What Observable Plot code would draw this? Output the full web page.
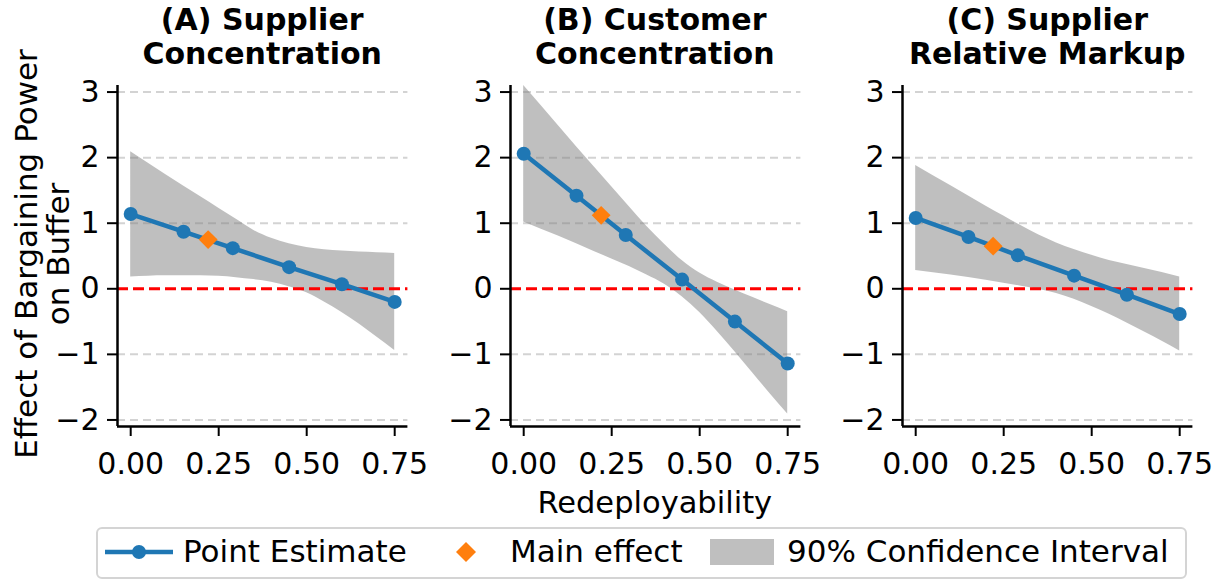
<!DOCTYPE html>
<html>
<head>
<meta charset="utf-8">
<script src="https://cdn.jsdelivr.net/npm/d3@7"></script>
<script src="https://cdn.jsdelivr.net/npm/@observablehq/plot@0.6"></script>
<style>
  body { margin: 0; background: #fff; }
  #fig { position: relative; width: 1225px; height: 580px; overflow: hidden;
         font-family: "DejaVu Sans", sans-serif; color: #000; background: #fff; }
  .panel { position: absolute; top: 0; }
  .title { position: absolute; top: 3px; text-align: center; font-weight: bold;
           font-size: 30px; line-height: 34px; white-space: nowrap; }
  .ylabel { position: absolute; left: 42px; top: 254px; transform: translate(-50%, -50%) rotate(-90deg);
            text-align: center; font-size: 31px; line-height: 32px; white-space: nowrap; }
  .xlabel { position: absolute; top: 485px; font-size: 30.5px; white-space: nowrap; transform: translateX(-50%); }
  .legend { position: absolute; left: 96px; top: 527px; width: 1091px; height: 52px;
            border: 2px solid #d4d4d4; border-radius: 6px; box-sizing: border-box; }
  .lg { position: absolute; top: 534px; font-size: 31px; line-height: 35px; white-space: nowrap; }
  .sw { position: absolute; }
</style>
</head>
<body>
<div id="fig"></div>
<script>
// Redeployability percentiles at which the marginal effect is evaluated
const redeploy = [0, 0.15, 0.29, 0.45, 0.60, 0.75];
// Sample mean of redeployability (main effect location)
const mainX = 0.22;

const panelTitles = [
  ["(A) Supplier", "Concentration"],
  ["(B) Customer", "Concentration"],
  ["(C) Supplier", "Relative Markup"]
];

// Point estimates of the marginal effect
const estA = [1.14, 0.87, 0.62, 0.33, 0.07, -0.20];
const estB = [2.06, 1.42, 0.82, 0.14, -0.50, -1.14];
const estC = [1.08, 0.79, 0.51, 0.20, -0.09, -0.385];

// Main effects
const mainA = 0.75;
const mainB = 1.12;
const mainC = 0.65;

// 90% confidence band
const bandX = [0, 0.1, 0.2, 0.25, 0.3, 0.35, 0.4, 0.45, 0.5, 0.55, 0.6, 0.65, 0.7, 0.75];
const upperA = [2.09, 1.74, 1.40, 1.23, 1.06, 0.89, 0.77, 0.685, 0.63, 0.595, 0.575, 0.56, 0.55, 0.54];
const lowerA = [0.18, 0.20, 0.20, 0.19, 0.17, 0.14, 0.10, 0.03, -0.06, -0.20, -0.36, -0.54, -0.74, -0.94];
const upperB = [3.10, 2.48, 1.86, 1.555, 1.25, 0.95, 0.68, 0.43, 0.24, 0.10, -0.02, -0.13, -0.24, -0.35];
const lowerB = [1.02, 0.80, 0.57, 0.455, 0.34, 0.21, 0.07, -0.12, -0.36, -0.65, -0.96, -1.28, -1.60, -1.91];
const upperC = [1.88, 1.57, 1.26, 1.11, 0.96, 0.82, 0.70, 0.60, 0.51, 0.43, 0.37, 0.31, 0.25, 0.18];
const lowerC = [0.28, 0.21, 0.13, 0.085, 0.04, -0.01, -0.07, -0.16, -0.27, -0.39, -0.52, -0.66, -0.80, -0.95];

// Axis ticks
const xTicks = [0, 0.25, 0.5, 0.75];
const yTicks = [-2, -1, 0, 1, 2, 3];

const blue = "#1f77b4";
const orange = "#ff7f0e";
const xDomain = [-0.0375, 0.7875];
const yDomain = [-2.1, 3.1];

const panelLeft = [0, 392.6, 785];
const mLeft = 117, plotW = 290.4, svgW = 420, svgH = 490, mTop = 85, mBottom = 64;

const fmtY = d => (d < 0 ? "\u2212" + Math.abs(d) : String(d));

function panel(est, main, upper, lower) {
  const pts = redeploy.map((x, i) => ({x, y: est[i]}));
  const band = bandX.map((x, i) => ({x, lo: lower[i], hi: upper[i]}));
  return Plot.plot({
    width: svgW,
    height: svgH,
    marginLeft: mLeft,
    marginRight: svgW - mLeft - plotW,
    marginTop: mTop,
    marginBottom: mBottom,
    style: {background: "transparent", fontFamily: "DejaVu Sans", fontSize: "30px", color: "#000", overflow: "visible"},
    x: {domain: xDomain},
    y: {domain: yDomain},
    marks: [
      Plot.ruleY(yTicks.filter(d => d !== 0), {stroke: "#d3d3d3", strokeWidth: 2, strokeDasharray: "8,5"}),
      Plot.areaY(band, {x: "x", y1: "lo", y2: "hi", fill: "gray", fillOpacity: 0.5, curve: "monotone-x"}),
      Plot.ruleY([0], {stroke: "red", strokeWidth: 3, strokeDasharray: "11,5"}),
      Plot.line(pts, {x: "x", y: "y", stroke: blue, strokeWidth: 4.5}),
      Plot.dot(pts, {x: "x", y: "y", r: 7, fill: blue}),
      Plot.dot([{x: mainX, y: main}], {x: "x", y: "y", r: 8.5, symbol: "diamond2", fill: orange}),
      Plot.axisX(xTicks, {tickSize: 10, tickPadding: 16, strokeWidth: 2, fontSize: 30,
                          tickFormat: d3.format(".2f"), label: null}),
      Plot.axisY(yTicks, {tickSize: 10, tickPadding: 8, strokeWidth: 2, fontSize: 30,
                          tickFormat: fmtY, label: null}),
      Plot.ruleX([xDomain[0]], {stroke: "#000", strokeWidth: 2.5}),
      Plot.ruleY([yDomain[0]], {stroke: "#000", strokeWidth: 2.5})
    ]
  });
}

const fig = document.getElementById("fig");
const series = [[estA, mainA, upperA, lowerA], [estB, mainB, upperB, lowerB], [estC, mainC, upperC, lowerC]];

series.forEach((s, i) => {
  const svg = panel(...s);
  svg.classList.add("panel");
  svg.style.left = panelLeft[i] + "px";
  fig.appendChild(svg);

  const t = document.createElement("div");
  t.className = "title";
  t.style.left = (panelLeft[i] + mLeft) + "px";
  t.style.width = plotW + "px";
  t.innerHTML = panelTitles[i].join("<br>");
  fig.appendChild(t);
});

// shared y label
const yl = document.createElement("div");
yl.className = "ylabel";
yl.innerHTML = "Effect of Bargaining Power<br>on Buffer";
fig.appendChild(yl);

// shared x label
const xl = document.createElement("div");
xl.className = "xlabel";
xl.style.left = (panelLeft[1] + mLeft + plotW / 2) + "px";
xl.textContent = "Redeployability";
fig.appendChild(xl);

// legend
const lgBox = document.createElement("div");
lgBox.className = "legend";
fig.appendChild(lgBox);

function swatch(left, top, w, h, inner) {
  const d = document.createElement("div");
  d.className = "sw";
  d.style.left = left + "px";
  d.style.top = top + "px";
  d.innerHTML = `<svg width="${w}" height="${h}" viewBox="0 0 ${w} ${h}">${inner}</svg>`;
  fig.appendChild(d);
}
function label(left, text) {
  const d = document.createElement("div");
  d.className = "lg";
  d.style.left = left + "px";
  d.textContent = text;
  fig.appendChild(d);
}
swatch(105, 540, 68, 24, `<line x1="0" y1="12" x2="68" y2="12" stroke="${blue}" stroke-width="4.5"/><circle cx="34" cy="12" r="7" fill="${blue}"/>`);
label(183, "Point Estimate");
swatch(454, 540, 24, 24, `<path d="M12,2 L22,12 L12,22 L2,12 Z" fill="${orange}"/>`);
label(510, "Main effect");
swatch(710, 539, 64, 26, `<rect x="0" y="0" width="64" height="26" fill="gray" fill-opacity="0.5"/>`);
label(787, "90% Confidence Interval");
</script>
</body>
</html>
